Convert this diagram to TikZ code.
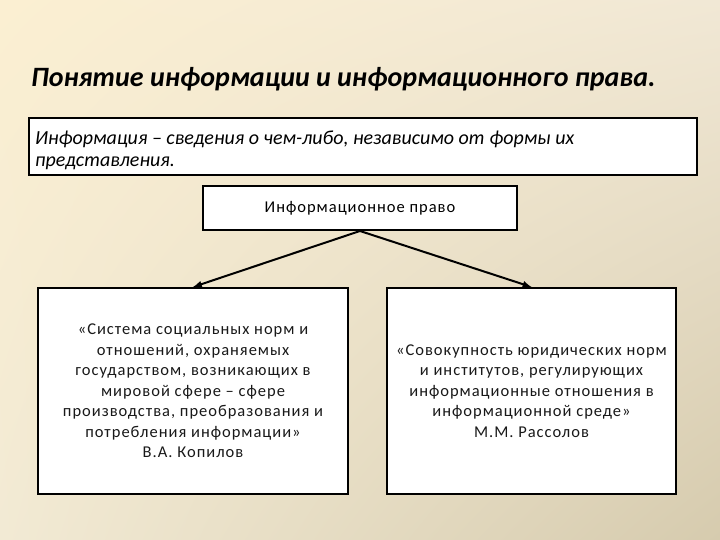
\documentclass[tikz,border=0pt]{standalone}
\usepackage{fontspec}
\setmainfont{Carlito}
\newfontfamily\boxfont[LetterSpace=6]{Carlito}
\usetikzlibrary{shadings}
\definecolor{bgtl}{HTML}{FBEFD2}
\definecolor{bgtr}{HTML}{F1E8D5}
\definecolor{bgbl}{HTML}{F2EAD4}
\definecolor{bgbr}{HTML}{D6CBAE}
\tikzset{
  frame/.style={draw=black,line width=2pt,fill=white,inner sep=6pt},
  quote/.style={frame,align=center,font=\boxfont\fontsize{16.5}{20.5}\selectfont,text=black!90}
}

\begin{document}
\begin{tikzpicture}[x=1pt,y=-1pt]
% Background
\shade[upper left=bgtl,upper right=bgtr,lower left=bgbl,lower right=bgbr] (0,0) rectangle (720,540);
\useasboundingbox (0,0) rectangle (720,540);

%Title
\node[anchor=base west,inner sep=0pt,font=\fontsize{28}{32}\selectfont\bfseries\itshape] (title) at (31,87)
  {Понятие информации и информационного права.};

%Definition
\node[frame,line width=1.8pt,minimum width=668pt,minimum height=57pt] (infodef) at (363,146.5) {};
\node[anchor=base west,inner sep=0pt,text width=650pt,align=flush left,
  font=\fontsize{20}{21.5}\selectfont\itshape] (infotext) at (35,145)
  {Информация – сведения о чем-либо, независимо от формы их\\представления.};

%Informational law
\node[frame,minimum width=314pt,minimum height=44pt,font=\boxfont\fontsize{16.5}{20}\selectfont] (law) at (360,208)
  {Информационное право};

%Kopilov
\node[quote,minimum width=310pt,minimum height=206pt] (kopilov) at (193,391)
  {«Система социальных норм и\\отношений, охраняемых\\государством, возникающих в\\мировой сфере – сфере\\производства, преобразования и\\потребления информации»\\В.А. Копилов};

%Rassolov
\node[quote,minimum width=289pt,minimum height=206pt] (rassolov) at (531.5,391)
  {«Совокупность юридических норм\\и институтов, регулирующих\\информационные отношения в\\информационной среде»\\М.М. Рассолов};

\draw[-latex,line width=2pt,black] (law.south)to(kopilov.north);
\draw[-latex,line width=2pt,black] (law.south)to(rassolov.north);

\end{tikzpicture}
\end{document}
